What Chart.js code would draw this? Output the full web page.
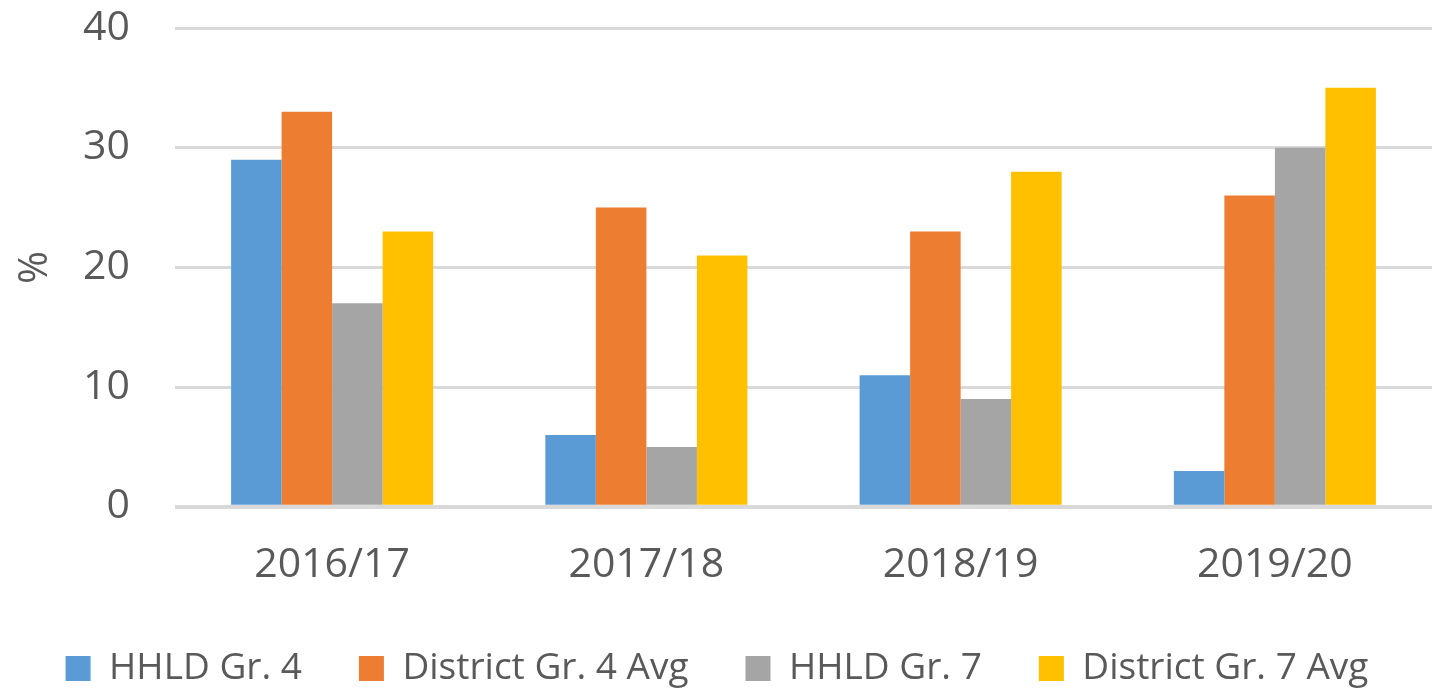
<!DOCTYPE html>
<html>
<head>
<meta charset="utf-8">
<script src="https://cdn.jsdelivr.net/npm/chart.js@4/dist/chart.umd.min.js"></script>
<style>
  html, body { margin: 0; padding: 0; background: #ffffff; }
  #wrap { width: 1443px; height: 688px; position: relative; }
</style>
</head>
<body>
<div id="wrap"><canvas id="c" width="1443" height="688"></canvas></div>
<script>
const categories = ["2016/17", "2017/18", "2018/19", "2019/20"];
const seriesNames = ["HHLD Gr. 4", "District Gr. 4 Avg", "HHLD Gr. 7", "District Gr. 7 Avg"];
const hhldGr4 = [29, 6, 11, 3];
const districtGr4Avg = [33, 25, 23, 26];
const hhldGr7 = [17, 5, 9, 30];
const districtGr7Avg = [23, 21, 28, 35];
const yTicks = [0, 10, 20, 30, 40];
const yTitle = "%";

const colors = ["#5B9BD5", "#ED7D31", "#A5A5A5", "#FFC000"];
const values = [hhldGr4, districtGr4Avg, hhldGr7, districtGr7Avg];
const FONT = "'Open Sans', 'Noto Sans', sans-serif";
const TEXT = "#595959";

new Chart(document.getElementById('c'), {
  type: 'bar',
  data: {
    labels: categories,
    datasets: seriesNames.map((n, i) => ({
      label: n,
      data: values[i],
      backgroundColor: colors[i],
      borderWidth: 0,
      barPercentage: 1.0,
      categoryPercentage: 0.643
    }))
  },
  options: {
    responsive: false,
    animation: false,
    devicePixelRatio: 1,
    layout: { padding: { left: 2, right: 11, top: 28, bottom: -9 } },
    plugins: {
      tooltip: { enabled: false },
      legend: {
        position: 'bottom',
        labels: {
          boxWidth: 25,
          boxHeight: 25,
          padding: 57,
          color: TEXT,
          font: { family: FONT, size: 37 }
        }
      }
    },
    scales: {
      x: {
        grid: { display: false, drawTicks: false },
        border: { display: false },
        afterFit: (axis) => { axis.height = axis.height - 31; },
        ticks: { color: TEXT, font: { family: FONT, size: 41 }, padding: 34 }
      },
      y: {
        min: 0, max: 40,
        afterBuildTicks: (axis) => { axis.ticks = yTicks.map(v => ({ value: v })); },
        afterFit: (axis) => { axis.width = 173; axis.paddingTop = 0; axis.paddingBottom = 0; },
        grid: {
          color: "#d9d9d9",
          lineWidth: (ctx) => (ctx.tick && ctx.tick.value === 0 ? 4 : 3),
          drawTicks: false
        },
        border: { display: false },
        ticks: { color: TEXT, font: { family: FONT, size: 41 }, padding: 45 },
        title: {
          display: true,
          text: yTitle,
          color: TEXT,
          font: { family: FONT, size: 40 },
          padding: { top: 10, bottom: 0 }
        }
      }
    }
  }
});
</script>
</body>
</html>
